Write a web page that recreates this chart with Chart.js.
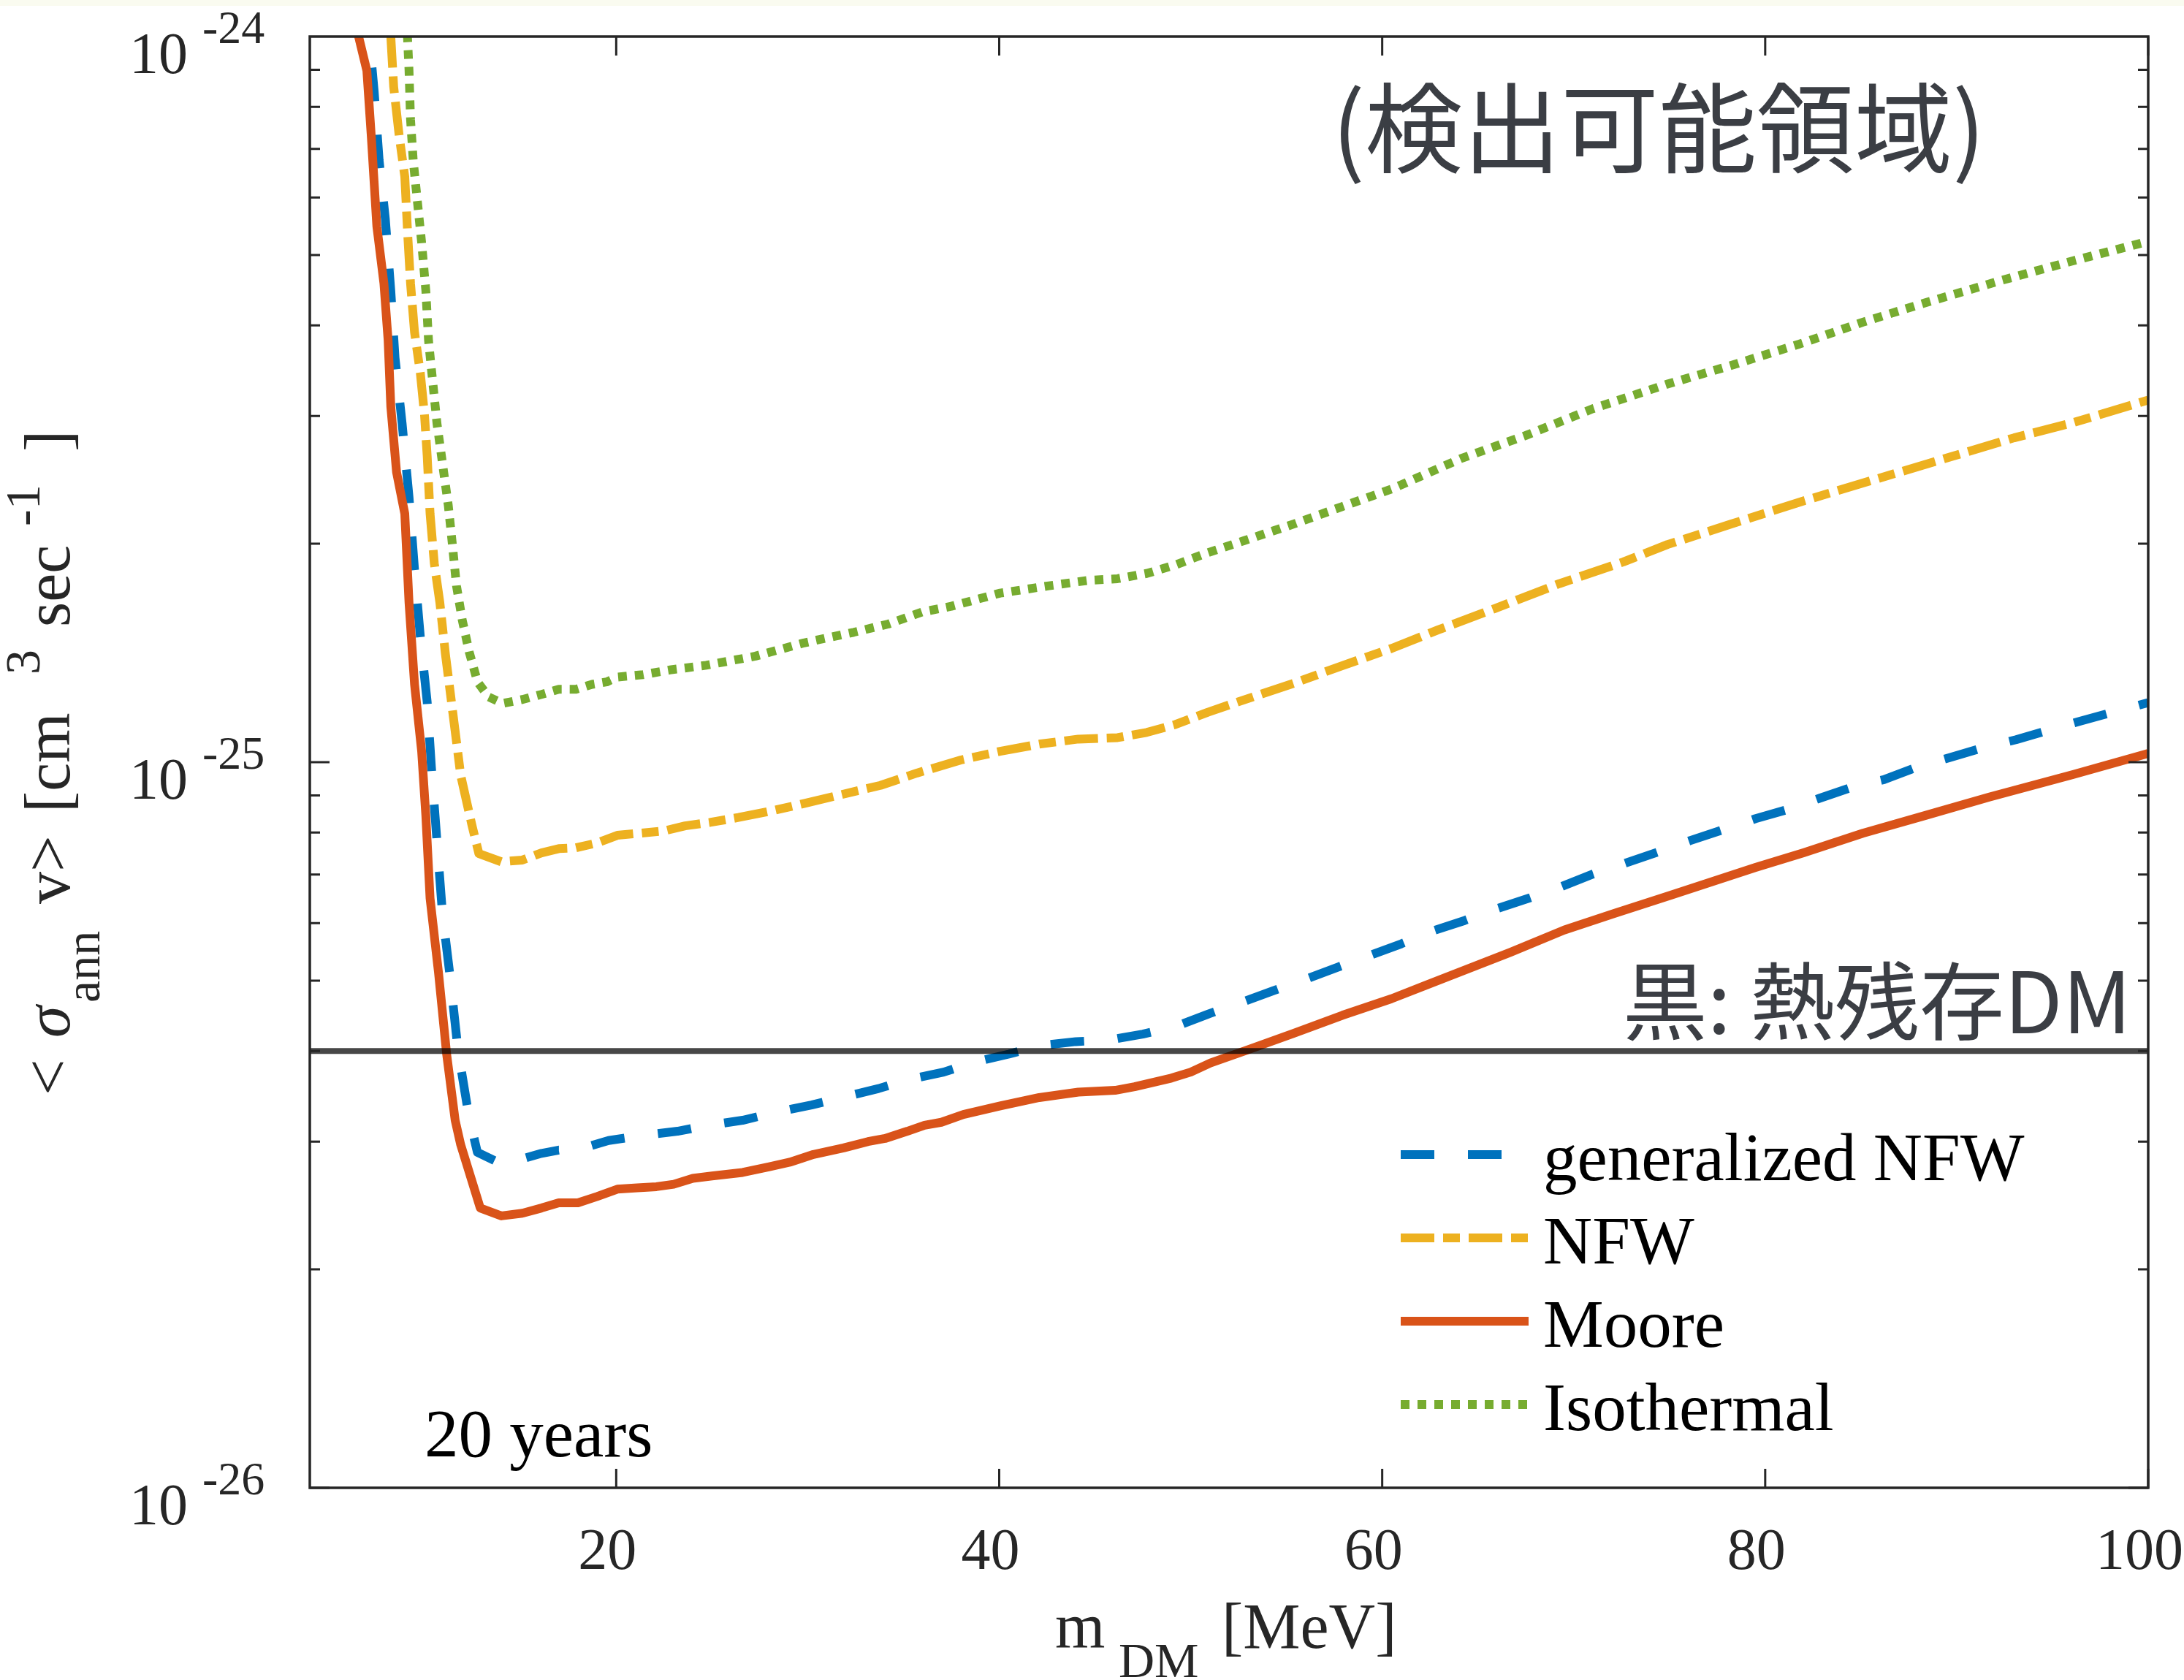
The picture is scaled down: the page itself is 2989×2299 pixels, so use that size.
<!DOCTYPE html>
<html>
<head>
<meta charset="utf-8">
<script src="https://cdn.jsdelivr.net/npm/chart.js@4.4.1/dist/chart.umd.min.js"></script>
<style>
  html, body { margin: 0; padding: 0; background: #fff; }
  canvas { display: block; }
</style>
</head>
<body>
<canvas id="chart" width="2989" height="2299"></canvas>
<script>
// Data (sigma values in units of 1e-26 cm^3 sec^-1, mass in MeV)
const gnfwMass = [6.9, 7.14, 7.36, 7.62, 7.94, 8.23, 8.45, 8.82, 9.18, 9.47, 9.77, 10.13, 10.35, 10.64, 10.93, 11.3, 11.74, 12.3, 12.75, 14.07, 16.1, 17.0, 17.9, 19.6, 21.4, 23.2, 24.84, 26.6, 28.3, 30.2, 31.8, 33.7, 35.2, 37.1, 38.7, 40.5, 42.2, 44.0, 45.7, 47.5, 49.2, 50.95, 52.6, 54.3, 55.9, 57.7, 59.3, 61.0, 62.6, 64.3, 65.9, 67.7, 69.3, 71.0, 72.7, 74.4, 76.1, 77.8, 79.5, 81.2, 82.8, 84.6, 86.2, 88.0, 89.6, 91.4, 93.1, 94.9, 96.5, 98.3, 100];
const gnfwSigma = [112, 97.3, 84.1, 67.5, 56.2, 44.6, 36.1, 29.3, 23.2, 18.4, 14.9, 12.1, 9.84, 7.78, 6.17, 5.13, 4.01, 3.26, 2.90, 2.79, 2.89, 2.92, 2.92, 3.01, 3.06, 3.10, 3.16, 3.21, 3.29, 3.37, 3.45, 3.55, 3.65, 3.74, 3.86, 3.96, 4.07, 4.12, 4.14, 4.22, 4.32, 4.50, 4.66, 4.84, 5.01, 5.22, 5.41, 5.62, 5.85, 6.05, 6.27, 6.50, 6.73, 7.01, 7.26, 7.52, 7.80, 8.07, 8.36, 8.61, 8.91, 9.25, 9.46, 9.86, 10.14, 10.47, 10.74, 11.09, 11.40, 11.75, 12.08];

const nfwMass = [8.0, 8.23, 8.38, 8.67, 8.96, 9.11, 9.26, 9.47, 9.77, 9.99, 10.13, 10.28, 10.5, 10.79, 11.08, 11.45, 11.88, 12.47, 12.83, 14.0, 15.1, 16.1, 17.0, 17.9, 19.0, 20.06, 21.2, 22.5, 23.6, 24.9, 26.38, 28.3, 29.8, 31.36, 33.8, 35.7, 38.0, 40.05, 42.09, 44.13, 46.18, 47.7, 49.2, 50.9, 52.8, 55.4, 57.9, 60.5, 62.9, 65.9, 69.25, 72.6, 74.9, 78.2, 82.0, 85.9, 89.7, 93.0, 96.1, 100];
const nfwSigma = [125, 100, 85.3, 72.9, 64.1, 53.5, 45.7, 39.1, 34.4, 30.1, 26.4, 22.0, 18.8, 16.6, 14.1, 11.8, 9.59, 8.18, 7.48, 7.29, 7.33, 7.50, 7.60, 7.62, 7.74, 7.93, 7.98, 8.04, 8.17, 8.26, 8.39, 8.59, 8.77, 8.97, 9.29, 9.66, 10.07, 10.35, 10.59, 10.76, 10.81, 10.99, 11.27, 11.72, 12.19, 12.85, 13.58, 14.35, 15.21, 16.29, 17.62, 18.88, 19.95, 21.28, 22.91, 24.60, 26.36, 27.99, 29.38, 31.55];

const mooreMass = [6.0, 6.98, 7.21, 7.50, 7.87, 8.09, 8.23, 8.53, 8.96, 9.18, 9.47, 9.84, 10.06, 10.28, 10.72, 11.15, 11.59, 11.88, 12.9, 14.0, 15.1, 16.1, 17.0, 18.0, 19.0, 20.06, 21.1, 22.1, 23.0, 24.0, 25.0, 26.6, 28.0, 29.06, 30.3, 31.87, 33.15, 34.04, 35.2, 36.1, 36.98, 38.13, 40.05, 42.09, 44.13, 46.05, 47.07, 48.99, 50.0, 51.03, 52.82, 55.37, 57.93, 60.48, 62.22, 66.7, 69.5, 72.06, 75.1, 79.5, 82.0, 85.1, 88.4, 91.7, 96.1, 100];
const mooreSigma = [114.8, 89.7, 72.9, 54.8, 45.7, 38.1, 30.9, 25.1, 22.0, 16.6, 12.8, 10.35, 8.43, 6.49, 5.13, 3.95, 3.21, 2.97, 2.43, 2.37, 2.39, 2.43, 2.47, 2.47, 2.52, 2.58, 2.59, 2.60, 2.62, 2.67, 2.69, 2.72, 2.77, 2.81, 2.88, 2.94, 3.00, 3.03, 3.10, 3.16, 3.19, 3.27, 3.36, 3.45, 3.51, 3.53, 3.57, 3.67, 3.74, 3.85, 4.00, 4.23, 4.48, 4.72, 4.92, 5.47, 5.87, 6.18, 6.56, 7.16, 7.50, 7.98, 8.45, 8.95, 9.62, 10.28];

const isoMass = [8.9, 9.1, 9.18, 9.26, 9.40, 9.62, 9.84, 10.06, 10.2, 10.42, 10.64, 10.93, 11.23, 11.45, 11.66, 11.96, 12.32, 12.76, 13.34, 14.07, 15.1, 16.1, 17.0, 17.9, 18.74, 19.5, 20.06, 21.4, 22.8, 24.7, 27.27, 29.8, 32.4, 34.2, 35.96, 37.5, 40.05, 42.6, 44.6, 46.18, 47.7, 49.2, 50.8, 52.8, 55.4, 57.9, 60.5, 64.1, 67.5, 71.0, 74.9, 78.2, 81.8, 85.1, 88.4, 92.3, 96.1, 100];
const isoSigma = [125, 100, 89.9, 76.9, 67.5, 59.2, 52.0, 44.6, 38.1, 33.4, 29.3, 25.8, 22.6, 19.9, 17.5, 15.7, 14.2, 12.9, 12.3, 12.05, 12.2, 12.4, 12.6, 12.6, 12.8, 12.9, 13.1, 13.2, 13.4, 13.6, 14.0, 14.6, 15.1, 15.5, 16.1, 16.4, 17.1, 17.5, 17.8, 17.9, 18.2, 18.7, 19.4, 20.2, 21.3, 22.5, 23.8, 26.2, 28.2, 30.7, 33.2, 35.2, 37.7, 40.4, 43.0, 46.1, 49.1, 52.2];

const thermalSigma = 4.0;
const massRange = [4, 100];
const xTicks = [20, 40, 60, 80, 100];
const yTickExps = [-24, -25, -26];

const seriesNames = ['generalized NFW', 'NFW', 'Moore', 'Isothermal'];

const serif = '"Liberation Serif", "Times New Roman", serif';
const cjk = '"Noto Sans CJK JP", "Noto Sans CJK SC", sans-serif';
const axisColor = '#262626';
const unit = 1e-26;
const lw = 12;

const toPoints = (ms, vs) => ms.map((m, i) => ({ x: m, y: vs[i] * unit }));

// Frame, ticks, labels and legend (MATLAB style)
const frame = {
  id: 'frame',
  beforeDraw(chart) {
    const c = chart.ctx;
    c.save();
    c.fillStyle = '#ffffff';
    c.fillRect(0, 0, chart.width, chart.height);
    c.fillStyle = '#fafbf0';
    c.fillRect(0, 0, chart.width, 8);
    c.restore();
  },
  afterDraw(chart) {
    const c = chart.ctx;
    const a = chart.chartArea;
    const x = chart.scales.x;
    const y = chart.scales.y;
    c.save();

    // ticks
    c.strokeStyle = axisColor;
    c.lineWidth = 3;
    c.beginPath();
    for (let e = -26; e < -24; e++) {
      for (let k = 1; k <= 9; k++) {
        const py = y.getPixelForValue(k * Math.pow(10, e));
        const len = k === 1 ? 27 : 14;
        c.moveTo(a.left, py); c.lineTo(a.left + len, py);
        c.moveTo(a.right, py); c.lineTo(a.right - len, py);
      }
    }
    for (const v of xTicks) {
      const px = x.getPixelForValue(v);
      c.moveTo(px, a.bottom); c.lineTo(px, a.bottom - 26);
      c.moveTo(px, a.top); c.lineTo(px, a.top + 26);
    }
    c.stroke();
    c.lineWidth = 3.5;
    c.strokeRect(a.left, a.top, a.right - a.left, a.bottom - a.top);

    // tick labels
    c.fillStyle = axisColor;
    c.textBaseline = 'alphabetic';
    c.textAlign = 'left';
    for (const e of yTickExps) {
      const py = y.getPixelForValue(Math.pow(10, e));
      c.font = '80px ' + serif;
      c.fillText('10', 177, py + 50);
      c.font = '64px ' + serif;
      c.fillText(String(e), 277, py + 9);
    }
    c.textAlign = 'center';
    c.font = '80px ' + serif;
    for (const v of xTicks) {
      c.fillText(String(v), x.getPixelForValue(v) - 12, 2147);
    }

    // x label
    c.textAlign = 'left';
    c.font = '88px ' + serif;
    c.fillText('m', 1444, 2255);
    c.font = '68px ' + serif;
    c.fillText('DM', 1531, 2295);
    c.font = '88px ' + serif;
    c.fillText('[MeV]', 1672, 2255);

    // y label (rotated)
    const yParts = [
      ['<', 1499, 0, 88, ''],
      ['\u03c3', 1420, 0, 88, 'italic '],
      ['ann', 1372, 41, 68, ''],
      ['v>', 1237, 0, 88, ''],
      ['[cm', 1112, 0, 88, ''],
      ['3', 923, -41, 68, ''],
      ['sec', 858, 0, 88, ''],
      ['-1', 720, -41, 68, ''],
      [']', 618, 0, 88, '']
    ];
    c.save();
    c.translate(95, 0);
    c.rotate(-Math.PI / 2);
    for (const [t, start, shift, size, style] of yParts) {
      c.font = style + size + 'px ' + serif;
      c.fillText(t, -start, shift);
    }
    c.restore();

    // annotations
    c.fillStyle = '#000';
    c.font = '93px ' + serif;
    c.fillText('20 years', 581, 1993);

    c.fillStyle = '#3b3e44';
    c.font = '134px ' + cjk;
    const pw = c.measureText('(').width;
    c.fillText('(検出可能領域)', 1868 - pw, 226);
    c.font = '116px ' + cjk;
    c.textAlign = 'right';
    c.fillText('黒: 熱残存DM', 2917, 1414);

    // legend
    c.textAlign = 'left';
    c.font = '93px ' + serif;
    const entries = chart.data.datasets.filter(d => seriesNames.includes(d.label));
    entries.sort((p, q) => seriesNames.indexOf(p.label) - seriesNames.indexOf(q.label));
    entries.forEach((d, i) => {
      const ly = 1580 + i * 114;
      c.strokeStyle = d.borderColor;
      c.lineWidth = lw;
      c.lineCap = 'butt';
      c.setLineDash(d.borderDash || []);
      c.beginPath();
      c.moveTo(1917, ly);
      c.lineTo(2092, ly);
      c.stroke();
      c.setLineDash([]);
      c.fillStyle = '#000';
      c.fillText(d.label, 2112, ly + 35);
    });

    c.restore();
  }
};

const lineStyle = { borderWidth: lw, pointRadius: 0, fill: false, tension: 0, borderJoinStyle: 'round', borderCapStyle: 'butt', clip: 0 };

new Chart(document.getElementById('chart'), {
  type: 'line',
  data: {
    datasets: [
      { label: 'thermal', data: [{ x: massRange[0], y: thermalSigma * unit }, { x: massRange[1], y: thermalSigma * unit }],
        borderColor: 'rgba(0,0,0,0.72)', borderWidth: 8, pointRadius: 0, clip: 0, order: 0 },
      { label: seriesNames[3], data: toPoints(isoMass, isoSigma), borderColor: '#77AC30', borderDash: [12, 11], order: 1, ...lineStyle },
      { label: seriesNames[2], data: toPoints(mooreMass, mooreSigma), borderColor: '#D95319', order: 2, ...lineStyle },
      { label: seriesNames[1], data: toPoints(nfwMass, nfwSigma), borderColor: '#EDB120', borderDash: [46, 12, 23, 12], order: 3, ...lineStyle },
      { label: seriesNames[0], data: toPoints(gnfwMass, gnfwSigma), borderColor: '#0072BD', borderDash: [46, 46], order: 4, ...lineStyle }
    ]
  },
  options: {
    responsive: false,
    animation: false,
    devicePixelRatio: 1,
    layout: { padding: { top: 50, right: 49, left: 0, bottom: 0 } },
    scales: {
      x: {
        type: 'linear', min: massRange[0], max: massRange[1],
        grid: { display: false }, border: { display: false },
        ticks: { display: false },
        afterFit(s) { s.height = 263; }
      },
      y: {
        type: 'logarithmic', min: 1e-26, max: 1e-24,
        grid: { display: false }, border: { display: false },
        ticks: { display: false },
        afterFit(s) { s.width = 424; }
      }
    },
    plugins: {
      legend: { display: false },
      tooltip: { enabled: false }
    }
  },
  plugins: [frame]
});
</script>
</body>
</html>
